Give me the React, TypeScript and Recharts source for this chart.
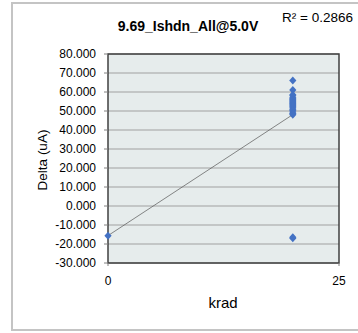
import React from 'react';
import { ScatterChart, Scatter, XAxis, YAxis, CartesianGrid, ReferenceArea } from 'recharts';

const titleText = '9.69_Ishdn_All@5.0V';
const r2Text = 'R² = 0.2866';
const xLabel = 'krad';
const yLabel = 'Delta (uA)';

const xTicks = [0, 25];
const yTicks = [-30, -20, -10, 0, 10, 20, 30, 40, 50, 60, 70, 80];

const kradLevels = [0, 20];
const deltaAt0 = [-15.6];
const deltaAt20 = [66, 61, 58.5, 58, 57, 56.5, 56, 55.5, 55, 54.5, 54, 53.5, 53, 52.5, 52, 51, 50.5, 50, 49, 48.5, 48, -16.5, -17];

const points = [
  ...deltaAt0.map((d) => ({ x: kradLevels[0], y: d })),
  ...deltaAt20.map((d) => ({ x: kradLevels[1], y: d })),
];

// least-squares trendline (as in the spreadsheet trendline)
const n = points.length;
const mx = points.reduce((s, p) => s + p.x, 0) / n;
const my = points.reduce((s, p) => s + p.y, 0) / n;
const sxy = points.reduce((s, p) => s + (p.x - mx) * (p.y - my), 0);
const sxx = points.reduce((s, p) => s + (p.x - mx) * (p.x - mx), 0);
const slope = sxy / sxx;
const intercept = my - slope * mx;
const trend = kradLevels.map((x) => ({ x, y: intercept + slope * x }));

const FONT = "'Liberation Sans', Arial, sans-serif";

const Diamond = (props: any) => {
  const { cx, cy } = props;
  if (cx == null || cy == null) return <g />;
  return (
    <polygon
      points={`${cx},${cy - 4} ${cx + 3.6},${cy} ${cx},${cy + 4} ${cx - 3.6},${cy}`}
      fill="#4472C4"
    />
  );
};

const NoShape = () => <g />;

export default function App() {
  return (
    <div style={{ position: 'absolute', left: 0, top: 0, width: 358, height: 333, overflow: 'hidden', background: '#fff' }}>
      <div
        style={{
          position: 'absolute',
          left: 11,
          top: 2,
          width: 380,
          height: 329,
          border: '2px solid #c4c4c4',
          boxSizing: 'border-box',
        }}
      />
      <div style={{ position: 'absolute', left: 0, top: 0 }}>
        <ScatterChart width={358} height={333} margin={{ top: 54, right: 19, bottom: 0, left: 0 }}>
          <CartesianGrid horizontal vertical={false} fill="#e6ecec" stroke="#a0a0a0" strokeWidth={1} />
          <XAxis
            type="number"
            dataKey="x"
            domain={[0, 25]}
            ticks={xTicks}
            interval={0}
            height={70}
            tickSize={3}
            tickMargin={10}
            axisLine={false}
            tickLine={{ stroke: '#808080' }}
            tick={{ fill: '#000', fontSize: 12, fontFamily: FONT }}
          />
          <YAxis
            type="number"
            dataKey="y"
            domain={[-30, 80]}
            ticks={yTicks}
            interval={0}
            width={108}
            tickSize={4}
            tickMargin={8}
            axisLine={false}
            tickLine={{ stroke: '#808080' }}
            tickFormatter={(v: number) => v.toFixed(3)}
            tick={{ fill: '#000', fontSize: 12, fontFamily: FONT }}
          />
          <ReferenceArea x1={0} x2={25} y1={-30} y2={80} fill="none" stroke="#404040" strokeWidth={1.5} ifOverflow="visible" />
          <Scatter
            data={trend}
            line={{ stroke: '#606060', strokeWidth: 0.75 }}
            shape={NoShape}
            isAnimationActive={false}
            legendType="none"
          />
          <Scatter data={points} shape={Diamond} isAnimationActive={false} />
        </ScatterChart>
      </div>
      <div
        style={{
          position: 'absolute',
          left: 188,
          top: 26,
          transform: 'translate(-50%, -50%)',
          fontFamily: FONT,
          fontWeight: 'bold',
          fontSize: 14,
          whiteSpace: 'nowrap',
        }}
      >
        {titleText}
      </div>
      <div
        style={{
          position: 'absolute',
          left: 282,
          top: 17,
          transform: 'translate(0, -50%)',
          fontFamily: FONT,
          fontSize: 13.5,
          whiteSpace: 'nowrap',
        }}
      >
        {r2Text}
      </div>
      <div
        style={{
          position: 'absolute',
          left: 42,
          top: 160,
          transform: 'translate(-50%, -50%) rotate(-90deg)',
          fontFamily: FONT,
          fontSize: 13.5,
          whiteSpace: 'nowrap',
        }}
      >
        {yLabel}
      </div>
      <div
        style={{
          position: 'absolute',
          left: 223,
          top: 302,
          transform: 'translate(-50%, -50%)',
          fontFamily: FONT,
          fontSize: 15,
          whiteSpace: 'nowrap',
        }}
      >
        {xLabel}
      </div>
    </div>
  );
}
